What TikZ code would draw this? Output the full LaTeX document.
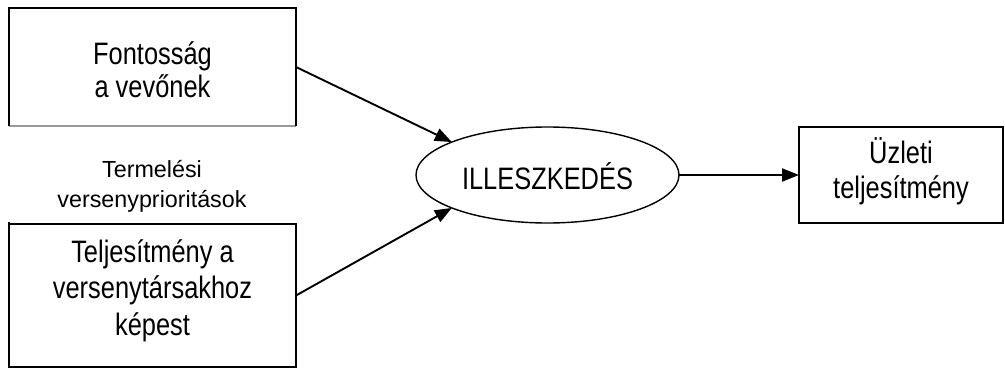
\documentclass[tikz,border=0pt]{standalone}
\usepackage{fontspec}
\setmainfont{Liberation Sans}
\newfontfamily\narrowfont[FakeStretch=0.82]{Liberation Sans}
\usetikzlibrary{arrows.meta,shapes.geometric}
\tikzset{
  boxshape/.style={draw=none,inner sep=0pt,outer sep=0pt},
  boxline/.style={line width=1.8pt,black},
  faintline/.style={line width=1.2pt,black!40},
  ellshape/.style={ellipse,draw,line width=1.4pt,inner sep=0pt,outer sep=0pt,
    minimum width=263pt,minimum height=96pt},
  conn/.style={line width=1.9pt,-{Triangle[length=17pt,width=13pt]}},
  boxtext/.style={align=center,inner sep=0pt,font=\narrowfont\fontsize{31}{#1}\selectfont},
  smalltext/.style={font=\fontsize{23.3}{30}\selectfont,align=center,inner sep=0pt}
}
\begin{document}
\begin{tikzpicture}[x=1pt,y=-1pt]
\useasboundingbox (0,0) rectangle (1005,369);
% top box
\node[boxshape,minimum width=287pt,minimum height=118pt] (a) at (152.5,67) {};
\node[boxtext=33.3] (at) at (152.5,70) {Fontosság\\a vevőnek};
\draw[faintline] (a.south west) -- (a.south east);
\draw[boxline] (a.south west) -- (a.north west) -- (a.north east) -- (a.south east);
% label
\node[smalltext] (l) at (152,186) {Termelési\\versenyprioritások};
% bottom box
\node[boxshape,minimum width=287pt,minimum height=143pt] (b) at (152.5,295.5) {};
\node[boxtext=36.5] (bt) at (152.5,290.5) {Teljesítmény a\\versenytársakhoz\\képest};
\draw[boxline] ([yshift=2pt]b.north west) -- (b.south west) -- (b.south east) -- (b.north east) -- (b.north west);
% ellipse
\node[ellshape] (e) at (547.5,175) {};
\node[boxtext=33.3] (et) at (547.5,176.5) {ILLESZKEDÉS};
% right box
\node[boxshape,minimum width=204pt,minimum height=96pt] (r) at (901,175) {};
\node[boxtext=35] (rt) at (901,171) {Üzleti\\teljesítmény};
\draw[boxline] (r.south west) rectangle (r.north east);
% connectors
\draw[conn] (a.east) -- (e.161);
\draw[conn] (b.east) -- (e.199);
\draw[conn] (e.east) -- (r.west);
\end{tikzpicture}
\end{document}
